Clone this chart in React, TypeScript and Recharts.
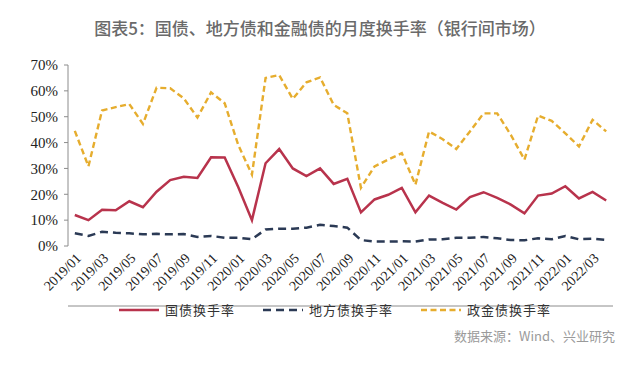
import React from "react";
import { LineChart, Line, XAxis, YAxis } from "recharts";

const months = [
  "2019/01", "2019/02", "2019/03", "2019/04", "2019/05", "2019/06", "2019/07", "2019/08",
  "2019/09", "2019/10", "2019/11", "2019/12", "2020/01", "2020/02", "2020/03", "2020/04",
  "2020/05", "2020/06", "2020/07", "2020/08", "2020/09", "2020/10", "2020/11", "2020/12",
  "2021/01", "2021/02", "2021/03", "2021/04", "2021/05", "2021/06", "2021/07", "2021/08",
  "2021/09", "2021/10", "2021/11", "2021/12", "2022/01", "2022/02", "2022/03", "2022/04",
];

// 国债换手率 (%)
const govBond = [
  12, 10, 14, 13.8, 17.3, 15, 21, 25.5, 26.8, 26.3, 34.3, 34.2, 22.7, 10, 32, 37.5, 30, 27, 30, 24,
  26, 13, 18, 19.8, 22.5, 13, 19.5, 16.7, 14.1, 18.9, 20.8, 18.6, 16, 12.6, 19.5, 20.3, 23.1, 18.4, 20.9, 17.6,
];
// 地方债换手率 (%)
const localBond = [
  4.9, 3.9, 5.5, 5.1, 4.9, 4.5, 4.7, 4.5, 4.6, 3.5, 3.9, 3.2, 3.2, 2.6, 6.4, 6.7, 6.7, 7.1, 8.2, 7.7,
  7.1, 2.3, 1.7, 1.7, 1.8, 1.7, 2.5, 2.6, 3.2, 3.2, 3.5, 3, 2.3, 2.2, 3, 2.6, 3.9, 2.6, 2.8, 2.3,
];
// 政金债换手率 (%)
const policyBond = [
  44.5, 30.8, 52.4, 53.7, 54.9, 47.2, 61.2, 61, 57.1, 49.7, 59.4, 55.2, 39, 27.6, 65, 66.1, 56.9, 63.3, 65.2, 54.6,
  51.3, 22.5, 30.8, 33.4, 35.9, 23.7, 44.3, 41.3, 37.5, 44.3, 51.3, 51.3, 43, 33.4, 50.4, 48.4, 43.6, 38.5, 48.8, 44.3,
];

const yTicks = [0, 10, 20, 30, 40, 50, 60, 70];
// tick marks sit on category boundaries, labels on every other category
const boundaryTicks = [-0.5, 1.5, 3.5, 5.5, 7.5, 9.5, 11.5, 13.5, 15.5, 17.5, 19.5, 21.5, 23.5, 25.5, 27.5, 29.5, 31.5, 33.5, 35.5, 37.5, 39.5];
const labelTicks = [0, 2, 4, 6, 8, 10, 12, 14, 16, 18, 20, 22, 24, 26, 28, 30, 32, 34, 36, 38];

const series = [
  { key: "gov", name: "国债换手率", color: "#b8334c", width: 2.5, dash: undefined },
  { key: "local", name: "地方债换手率", color: "#2b3a55", width: 2.5, dash: "8 5" },
  { key: "policy", name: "政金债换手率", color: "#e6ad2e", width: 2.4, dash: "6 3.5" },
];

const data = months.map((m, i) => ({
  idx: i,
  month: m,
  gov: govBond[i],
  local: localBond[i],
  policy: policyBond[i],
}));

const serif = "'Liberation Serif', 'Times New Roman', serif";
const cjk = "'Noto Sans CJK SC', 'Noto Sans', sans-serif";

export default function App() {
  return (
    <div style={{ position: "absolute", left: 0, top: 0, width: 640, height: 370, background: "#fff" }}>
      <div
        style={{
          position: "absolute",
          top: 15,
          left: 0,
          width: 640,
          textAlign: "center",
          fontFamily: cjk,
          fontSize: 17,
          fontWeight: 500,
          color: "#6a6a6a",
        }}
      >
        图表5：国债、地方债和金融债的月度换手率（银行间市场）
      </div>

      <LineChart width={640} height={370} data={data} margin={{ top: 65, right: 27, bottom: 63, left: 18 }}>
        <XAxis
          xAxisId="marks"
          type="number"
          dataKey="idx"
          domain={[-0.5, 39.5]}
          ticks={boundaryTicks}
          tick={false}
          tickSize={5}
          height={1}
          stroke="#8c8c8c"
        />
        <XAxis
          xAxisId="labels"
          type="number"
          dataKey="idx"
          domain={[-0.5, 39.5]}
          ticks={labelTicks}
          tickFormatter={(v: number) => months[v]}
          axisLine={false}
          tickLine={false}
          tickSize={4}
          tickMargin={2}
          height={60}
          angle={-45}
          textAnchor="end"
          interval={0}
          tick={{ fontSize: 14, fill: "#222", fontFamily: serif }}
        />
        <YAxis
          domain={[0, 70]}
          ticks={yTicks}
          tickFormatter={(v: number) => `${v}%`}
          width={50}
          tickSize={4}
          tickMargin={6}
          stroke="#8c8c8c"
          tick={{ fontSize: 15, fill: "#222", fontFamily: serif }}
        />
        {series.map((s) => (
          <Line
            key={s.key}
            xAxisId="labels"
            type="linear"
            dataKey={s.key}
            name={s.name}
            stroke={s.color}
            strokeWidth={s.width}
            strokeDasharray={s.dash}
            dot={false}
            activeDot={false}
            isAnimationActive={false}
          />
        ))}
      </LineChart>

      <div
        style={{
          position: "absolute",
          top: 300,
          left: 0,
          width: 640,
          display: "flex",
          justifyContent: "center",
          gap: 28,
          fontFamily: cjk,
          fontSize: 13,
          color: "#333",
          paddingLeft: 30,
          boxSizing: "border-box",
        }}
      >
        {series.map((s) => (
          <div key={s.key} style={{ display: "flex", alignItems: "center", gap: 6 }}>
            <svg width={40} height={10}>
              <line x1={0} y1={5} x2={40} y2={5} stroke={s.color} strokeWidth={s.width} strokeDasharray={s.dash} />
            </svg>
            <span style={{ letterSpacing: 1 }}>{s.name}</span>
          </div>
        ))}
      </div>

      <div
        style={{
          position: "absolute",
          top: 326,
          right: 25,
          fontFamily: cjk,
          fontSize: 13,
          color: "#9a9a9a",
        }}
      >
        数据来源：Wind、兴业研究
      </div>
    </div>
  );
}
